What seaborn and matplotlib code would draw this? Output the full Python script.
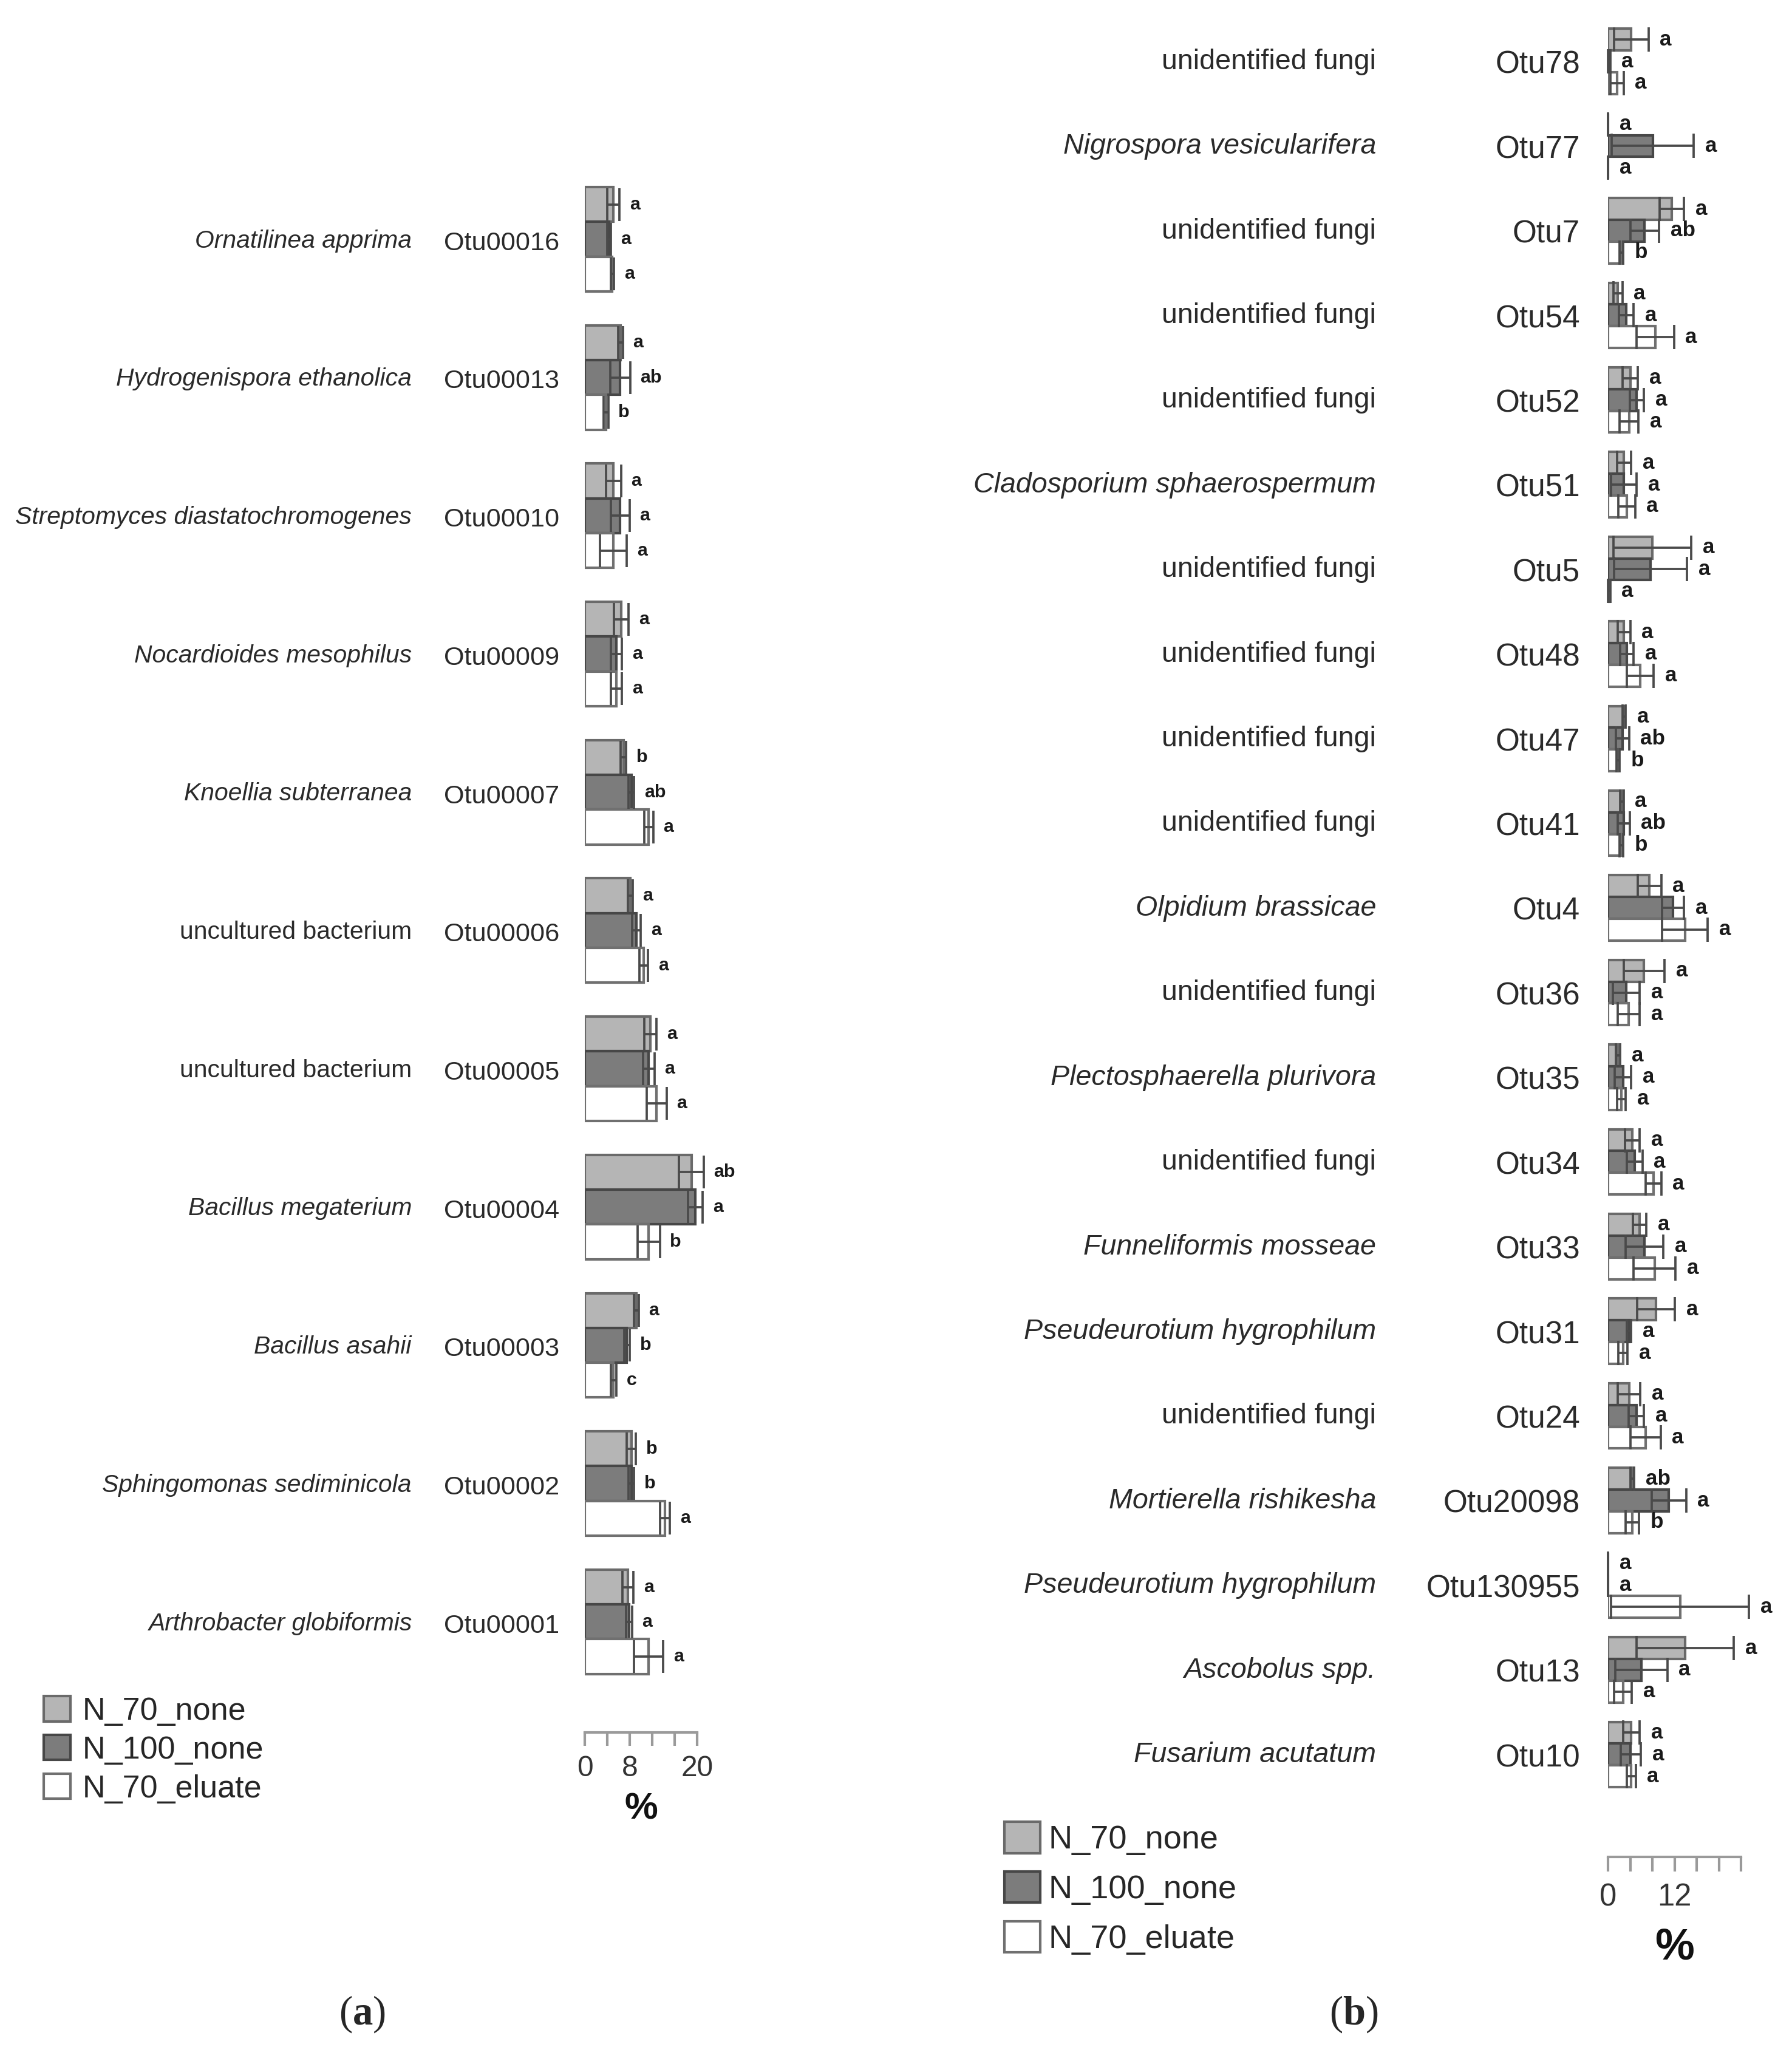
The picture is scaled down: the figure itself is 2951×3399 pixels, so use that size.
import numpy as np
import pandas as pd
import matplotlib
matplotlib.use("Agg")
import matplotlib.pyplot as plt
import matplotlib.transforms as mtransforms
from matplotlib.patches import Patch
from matplotlib.container import BarContainer
import seaborn as sns

sns.set_style("white")
plt.rcParams["font.family"] = ["Liberation Sans", "DejaVu Sans"]
plt.rcParams["mathtext.fontset"] = "custom"
plt.rcParams["mathtext.rm"] = "Liberation Serif"
plt.rcParams["mathtext.bf"] = "Liberation Serif:bold"

# ---------------- data: panel (a) ----------------
groups = ["N_70_none", "N_100_none", "N_70_eluate"]

otu_a = ["Otu00016", "Otu00013", "Otu00010", "Otu00009", "Otu00007", "Otu00006",
         "Otu00005", "Otu00004", "Otu00003", "Otu00002", "Otu00001"]
species_a = ["Ornatilinea apprima", "Hydrogenispora ethanolica",
             "Streptomyces diastatochromogenes", "Nocardioides mesophilus",
             "Knoellia subterranea", "uncultured bacterium", "uncultured bacterium",
             "Bacillus megaterium", "Bacillus asahii", "Sphingomonas sediminicola",
             "Arthrobacter globiformis"]
a_n70 = [5.1, 6.4, 5.1, 6.5, 6.9, 8.1, 11.7, 19.0, 9.2, 8.3, 7.7]
a_n70_err = [1.1, 0.4, 1.35, 1.3, 0.5, 0.4, 1.1, 2.2, 0.4, 0.8, 1.0]
a_n100 = [4.3, 6.3, 6.3, 5.6, 8.3, 9.2, 11.4, 19.7, 7.5, 8.3, 7.9]
a_n100_err = [0.3, 1.8, 1.7, 1.0, 0.5, 0.8, 1.0, 1.3, 0.5, 0.5, 0.5]
a_elu = [4.9, 3.8, 5.1, 5.6, 11.4, 10.5, 12.8, 11.4, 5.1, 14.3, 11.4]
a_elu_err = [0.3, 0.4, 2.4, 1.0, 0.8, 0.8, 1.8, 2.0, 0.5, 0.9, 2.6]
a_let_n70 = ["a", "a", "a", "a", "b", "a", "a", "ab", "a", "b", "a"]
a_let_n100 = ["a", "ab", "a", "a", "ab", "a", "a", "a", "b", "b", "a"]
a_let_elu = ["a", "b", "a", "a", "a", "a", "a", "b", "c", "a", "a"]
a_ticks = [0, 4, 8, 12, 16, 20]
a_ticklabels = ["0", "", "8", "", "", "20"]

# ---------------- data: panel (b) ----------------
otu_b = ["Otu78", "Otu77", "Otu7", "Otu54", "Otu52", "Otu51", "Otu5", "Otu48", "Otu47",
         "Otu41", "Otu4", "Otu36", "Otu35", "Otu34", "Otu33", "Otu31", "Otu24",
         "Otu20098", "Otu130955", "Otu13", "Otu10"]
species_b = ["unidentified fungi", "Nigrospora vesicularifera", "unidentified fungi",
             "unidentified fungi", "unidentified fungi", "Cladosporium sphaerospermum",
             "unidentified fungi", "unidentified fungi", "unidentified fungi",
             "unidentified fungi", "Olpidium brassicae", "unidentified fungi",
             "Plectosphaerella plurivora", "unidentified fungi", "Funneliformis mosseae",
             "Pseudeurotium hygrophilum", "unidentified fungi", "Mortierella rishikesha",
             "Pseudeurotium hygrophilum", "Ascobolus spp.", "Fusarium acutatum"]
b_n70 = [4.2, 0.0, 11.5, 1.8, 4.0, 2.9, 8.0, 2.9, 2.9, 2.5, 7.5, 6.5, 1.8, 4.4, 5.7,
         8.7, 3.8, 4.4, 0.0, 13.9, 4.2]
b_n70_err = [3.1, 0.0, 2.2, 0.8, 1.4, 1.3, 7.0, 1.1, 0.3, 0.3, 2.1, 3.7, 0.4, 1.3, 1.2,
             3.4, 2.0, 0.3, 0.0, 8.8, 1.5]
b_n100 = [0.2, 8.1, 6.6, 3.3, 5.2, 2.9, 7.7, 3.4, 2.6, 2.8, 11.7, 3.3, 2.7, 4.8, 6.6,
          3.8, 5.1, 11.0, 0.0, 6.0, 4.1]
b_n100_err = [0.2, 7.4, 2.6, 1.3, 1.3, 2.3, 6.6, 1.2, 1.2, 1.1, 2.0, 2.4, 1.5, 1.4, 3.4,
              0.4, 1.4, 3.1, 0.0, 4.7, 1.8]
b_elu = [1.6, 0.0, 2.4, 8.5, 3.8, 3.4, 0.2, 5.8, 1.8, 2.4, 13.9, 3.7, 2.4, 8.2, 8.4,
         2.7, 6.8, 4.4, 13.0, 2.7, 4.2]
b_elu_err = [1.2, 0.0, 0.3, 3.4, 1.7, 1.5, 0.2, 2.4, 0.3, 0.3, 4.1, 2.0, 0.8, 1.4, 3.8,
             0.8, 2.7, 1.2, 12.4, 1.6, 0.8]
b_let_n70 = ["a"] * 17 + ["ab", "a", "a", "a"]
b_let_n100 = ["a", "a", "ab", "a", "a", "a", "a", "a", "ab", "ab", "a", "a", "a", "a",
              "a", "a", "a", "a", "a", "a", "a"]
b_let_elu = ["a", "a", "b", "a", "a", "a", "a", "a", "b", "b", "a", "a", "a", "a", "a",
             "a", "a", "b", "a", "a", "a"]
b_ticks = [0, 4, 8, 12, 16, 20, 24]
b_ticklabels = ["0", "", "", "12", "", "", ""]

# ---------------- styling ----------------
fills = ["#b5b5b5", "#7c7c7c", "#ffffff"]
edges = ["#6a6a6a", "#474747", "#707070"]

W, H, DPI = 2951, 3399, 300
fig = plt.figure(figsize=(W / DPI, H / DPI), dpi=DPI)


def px_axes(left, top, right, bottom):
    return fig.add_axes([left / W, 1 - bottom / H, (right - left) / W, (bottom - top) / H])


def is_plain(name):
    return name.startswith("unidentified") or name.startswith("uncultured")


def panel(ax, otus, species, vals, errs, lets, width, ylim, xmax, axis_max, ticks,
          ticklabels, capsize, let_fs, let_gap, otu_x, sp_x, otu_fs, sp_fs, tick_fs,
          tick_len, tick_pad, pct_fs, otu_dy, sp_dy):
    rows = []
    for g, v in zip(groups, vals):
        for o, val in zip(otus, v):
            rows.append({"otu": o, "group": g, "value": val})
    df = pd.DataFrame(rows)
    sns.barplot(data=df, x="value", y="otu", hue="group", order=otus, hue_order=groups,
                orient="h", palette=dict(zip(groups, fills)), width=width, errorbar=None,
                legend=False, saturation=1, linewidth=1.0, ax=ax)
    bar_conts = [c for c in ax.containers if isinstance(c, BarContainer)]
    for k, cont in enumerate(bar_conts):
        xs, ys, es = [], [], []
        for bar in cont.patches:
            bar.set_edgecolor(edges[k])
            yc = bar.get_y() + bar.get_height() / 2
            idx = int(round(yc))
            w = bar.get_width()
            xs.append(w)
            ys.append(yc)
            es.append(errs[k][idx])
            ax.annotate(lets[k][idx], xy=(w + errs[k][idx], yc), xytext=(let_gap, 0),
                        textcoords="offset points", ha="left", va="center",
                        fontsize=let_fs, fontweight="bold", color="#1a1a1a",
                        annotation_clip=False)
        ax.errorbar(xs, ys, xerr=es, fmt="none", ecolor="#4a4a4a", elinewidth=0.9,
                    capsize=capsize, capthick=0.9, zorder=5, clip_on=False)
    ax.set_ylim(*ylim)
    ax.set_xlim(0, xmax)
    ax.set_yticks([])
    ax.set_ylabel("")
    ax.set_xlabel("")
    for s in ["left", "top", "right"]:
        ax.spines[s].set_visible(False)
    ax.spines["bottom"].set_bounds(0, axis_max)
    ax.spines["bottom"].set_color("#9a9a9a")
    ax.spines["bottom"].set_linewidth(1.0)
    ax.set_xticks(ticks)
    ax.set_xticklabels(ticklabels)
    ax.tick_params(axis="x", length=tick_len, width=1.0, color="#9a9a9a", pad=tick_pad,
                   labelsize=tick_fs, labelcolor="#333333", bottom=True, direction="out")
    ax.text(axis_max / 2, -0.0488, "%", transform=ax.get_xaxis_transform(), ha="center",
            va="center", fontsize=pct_fs, fontweight="bold", color="#111111")
    tr = mtransforms.blended_transform_factory(fig.transFigure, ax.transData)
    for i, (o, sp) in enumerate(zip(otus, species)):
        ax.text(otu_x / W, i + otu_dy, o, transform=tr, ha="right", va="center",
                fontsize=otu_fs, color="#2a2a2a")
        ax.text(sp_x / W, i + sp_dy, sp, transform=tr, ha="right", va="center",
                fontsize=sp_fs, style="normal" if is_plain(sp) else "italic",
                color="#2a2a2a")


# panel (a)
ax_a = px_axes(963, 250, 963 + 26 * 9.24, 2853)
panel(ax_a, otu_a, species_a, [a_n70, a_n100, a_elu], [a_n70_err, a_n100_err, a_elu_err],
      [a_let_n70, a_let_n100, a_let_elu], width=0.755, ylim=(10.80, -0.632), xmax=26,
      axis_max=20, ticks=a_ticks, ticklabels=a_ticklabels, capsize=6.5, let_fs=7.3,
      let_gap=4.0, otu_x=921, sp_x=678, otu_fs=10.4, sp_fs=9.8, tick_fs=11.5,
      tick_len=5.3, tick_pad=3.6, pct_fs=14.8, otu_dy=0.03, sp_dy=0.012)

# panel (b)
ax_b = px_axes(2648, 0, 2648 + 30 * 9.125, 3058)
panel(ax_b, otu_b, species_b, [b_n70, b_n100, b_elu], [b_n70_err, b_n100_err, b_elu_err],
      [b_let_n70, b_let_n100, b_let_elu], width=0.771, ylim=(21.21, -0.7245), xmax=30,
      axis_max=24, ticks=b_ticks, ticklabels=b_ticklabels, capsize=4.8, let_fs=8.4,
      let_gap=4.5, otu_x=2602, sp_x=2266, otu_fs=12.3, sp_fs=11.2, tick_fs=12.2,
      tick_len=5.8, tick_pad=4.3, pct_fs=17.5, otu_dy=0.045, sp_dy=0.005)

# legends
handles = [Patch(facecolor=f, edgecolor=e, linewidth=1.0) for f, e in zip(fills, edges)]
fig.legend(handles, groups, loc="upper left", bbox_to_anchor=(72 / W, 1 - 2793 / H),
           frameon=False, fontsize=12.5, handlelength=0.85, handleheight=0.85,
           handletextpad=0.38, labelspacing=0.27, borderpad=0, borderaxespad=0)
fig.legend(handles, groups, loc="upper left", bbox_to_anchor=(1654 / W, 1 - 3000 / H),
           frameon=False, fontsize=13, handlelength=1.09, handleheight=1.09,
           handletextpad=0.24, labelspacing=0.49, borderpad=0, borderaxespad=0)

# panel labels
fig.text(596 / W, 1 - 3317 / H, r"($\mathbf{a}$)", family="Liberation Serif", fontsize=16,
         ha="center", va="center")
fig.text(2229 / W, 1 - 3317 / H, r"($\mathbf{b}$)", family="Liberation Serif", fontsize=16,
         ha="center", va="center")

fig.savefig("out.png", dpi=DPI)
